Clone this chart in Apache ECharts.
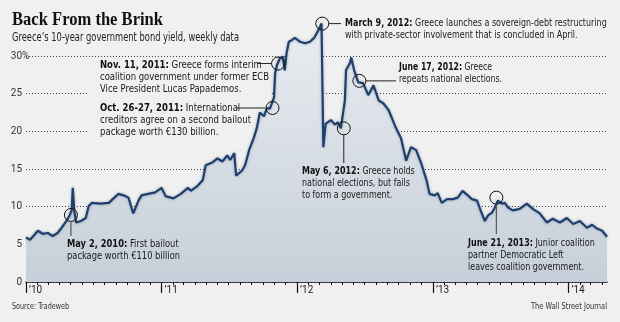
<!DOCTYPE html>
<html><head><meta charset="utf-8">
<script src="https://cdn.jsdelivr.net/npm/echarts@6/dist/echarts.min.js"></script>
<style>html,body{margin:0;padding:0;background:#f0f0f0}#c{width:620px;height:322px}</style>
</head><body><div id="c"></div>
<script>
// ---- data ----
const dates = [
 '2010-01-01','2010-01-12','2010-02-02','2010-02-15','2010-03-01','2010-03-14','2010-03-27','2010-04-07','2010-04-20','2010-04-28',
 '2010-05-04','2010-05-07','2010-05-11','2010-05-16','2010-05-29','2010-06-11','2010-06-19','2010-06-27','2010-07-21','2010-08-12',
 '2010-09-07','2010-09-21','2010-10-04','2010-10-17','2010-10-31','2010-11-08','2010-11-26','2010-12-15',
 '2011-01-01','2011-01-12','2011-02-02','2011-02-22','2011-03-13','2011-03-21','2011-04-09','2011-04-22','2011-04-30','2011-05-19',
 '2011-06-01','2011-06-14','2011-06-27','2011-07-05','2011-07-16','2011-07-21','2011-08-06','2011-08-14','2011-08-25','2011-09-07',
 '2011-09-15','2011-09-23','2011-10-04','2011-10-12','2011-10-20','2011-10-31','2011-11-03','2011-11-08','2011-11-16','2011-11-24',
 '2011-11-29','2011-12-04','2011-12-10','2011-12-18','2011-12-26',
 '2012-01-09','2012-01-23','2012-02-05','2012-02-16','2012-02-24','2012-03-07','2012-03-12','2012-03-18','2012-04-01','2012-04-12',
 '2012-04-20','2012-04-28','2012-05-09','2012-05-12','2012-05-23','2012-05-26','2012-06-03','2012-06-14','2012-06-27','2012-07-11',
 '2012-07-25','2012-08-08','2012-08-21','2012-09-04','2012-09-23','2012-10-07','2012-10-21','2012-11-03','2012-11-17','2012-12-01',
 '2012-12-15','2012-12-23',
 '2013-01-06','2013-01-14','2013-01-25','2013-02-08','2013-02-24','2013-03-09','2013-03-22','2013-04-05','2013-04-16','2013-04-30',
 '2013-05-08','2013-05-21','2013-05-29','2013-06-09','2013-06-17','2013-06-25','2013-07-06','2013-07-14','2013-07-22','2013-08-04',
 '2013-08-23','2013-09-11','2013-09-27','2013-10-16','2013-11-04','2013-11-20','2013-12-09','2013-12-28',
 '2014-01-14','2014-02-01','2014-02-20','2014-03-06','2014-03-19','2014-04-02','2014-04-15'
];
const yields = [
 5.9,5.6,6.8,6.4,6.5,6.1,6.5,7.2,8.1,8.8,
 9.5,12.5,9.5,7.9,8.1,8.5,10.1,10.5,10.4,10.5,
 11.7,11.5,11.2,9.1,10.8,11.5,11.7,11.9,
 12.5,11.4,11.1,11.7,12.5,12.1,12.8,13.5,15.5,15.9,
 16.4,16.0,16.8,16.2,17.1,14.1,14.8,15.5,17.5,19.2,
 20.5,22.5,22.0,23.1,23.0,24.5,27.7,28.8,29.7,29.9,
 28.1,30.4,31.9,32.1,32.4,
 31.9,31.7,31.9,32.4,33.1,34.3,17.9,21.0,21.5,20.9,
 21.2,20.4,24.1,28.1,29.1,29.8,28.1,26.5,26.4,24.8,
 26.1,24.1,23.7,22.8,20.5,19.1,16.1,17.9,17.5,15.7,
 13.5,11.7,
 11.5,11.8,10.5,11.0,11.0,11.2,12.1,11.5,11.0,10.8,
 9.7,8.1,8.8,9.2,9.9,10.8,10.4,10.5,9.9,9.5,
 9.7,10.4,9.7,9.1,7.9,8.4,7.9,8.5,
 7.7,8.1,7.2,7.6,7.1,6.8,6.0
];
const yTicks = [0, 5, 10, 15, 20, 25, 30];
const yearTicks = ['2010-01-01','2011-01-01','2012-01-01','2013-01-01','2014-01-01'];
const axisStart = '2010-01-01', axisEnd = '2014-04-15';
const eventDates  = ['2010-05-02','2011-10-27','2011-11-11','2012-03-09','2012-05-06','2012-06-17','2013-06-21'];
const eventYields = [8.9, 23.1, 29.0, 34.3, 20.4, 26.7, 11.2];
const eventBold = ['May 2, 2010:','Oct. 26-27, 2011:','Nov. 11, 2011:','March 9, 2012:','May 6, 2012:','June 17, 2012:','June 21, 2013:'];
const eventText = [
 ['First bailout','package worth €110 billion'],
 ['International','creditors agree on a second bailout','package worth €130 billion.'],
 ['Greece forms interim','coalition government under former ECB','Vice President Lucas Papademos.'],
 ['Greece launches a sovereign-debt restructuring','with private-sector involvement that is concluded in April.'],
 ['Greece holds','national elections, but fails','to form a government.'],
 ['Greece','repeats national elections.'],
 ['Junior coalition','partner Democratic Left','leaves coalition government.']
];
const titleText = 'Back From the Brink';
const subtitleText = 'Greece’s 10-year government bond yield, weekly data';
const sourceText = 'Source: Tradeweb';
const creditText = 'The Wall Street Journal';

// ---- layout (pixels) ----
const BG = '#f0f0f0';
const SANS = '"Liberation Sans Narrow", "DejaVu Sans Condensed", Roboto, sans-serif';
const SANS2 = 'Roboto, "Liberation Sans", sans-serif';
// [textLeft, textTop, targetWidth, leaderKind, leaderEnd, leaderColor, leaderWidth, bgRect]
const eventLayout = [
 [67, 239, 113, 'down', 236, '#555', 1.2, null],
 [100, 103, 151, 'left', 237, '#8a8a8a', 2, [88, 101, 174, 40]],
 [100, 60, 169, 'left', 257, '#222', 1, [88, 58, 184, 40]],
 [345, 18, 262, 'right', 341, '#222', 1, null],
 [302, 166, 113, 'down', 163, '#222', 1, null],
 [399, 62, 103, 'right', 396, '#222', 1, null],
 [468, 238, 127, 'down', 234, '#555', 1.2, null]
];
const LH = 12, FS = 10.5;

const ctx = document.createElement('canvas').getContext('2d');
function tw(text, weight, size, fam) { ctx.font = weight + ' ' + size + 'px ' + fam; return ctx.measureText(text).width; }
const ms = d => new Date(d + 'T00:00:00Z').getTime();

const xMin = ms(axisStart), xMax = ms(axisEnd);
const monthTicks = [];
for (let y = 2010; y <= 2014; y++) for (let m = 0; m < 12; m++) {
  const t = Date.UTC(y, m, 1);
  if (t >= xMin && t <= xMax) monthTicks.push(t);
}
const yearTickMs = yearTicks.map(ms);

const chart = echarts.init(document.getElementById('c'), null, {renderer: 'canvas', width: 620, height: 322});
const option = {
  backgroundColor: BG,
  animation: false,
  grid: {left: 26, right: 13, top: 56, bottom: 40},
  xAxis: [
    {type: 'value', min: xMin, max: xMax, position: 'bottom',
     axisLine: {show: true, lineStyle: {color: '#111', width: 1.5}},
     axisTick: {show: true, length: 3, customValues: monthTicks, lineStyle: {color: '#111', width: 1}},
     axisLabel: {show: false}, splitLine: {show: false}},
    {type: 'value', min: xMin, max: xMax, position: 'bottom',
     axisLine: {show: false},
     axisTick: {show: true, length: 11, customValues: yearTickMs, lineStyle: {color: '#111', width: 1.2}},
     axisLabel: {show: true, customValues: yearTickMs, align: 'left', margin: 3, padding: [0, 0, 0, 3], color: '#222', fontSize: 10, fontFamily: SANS2,
       formatter: v => '’' + String(new Date(v).getUTCFullYear()).slice(2)},
     splitLine: {show: false}}
  ],
  yAxis: [
    {type: 'value', min: yTicks[0], max: yTicks[yTicks.length - 1], interval: 5,
     axisLine: {show: false}, axisTick: {show: false},
     axisLabel: {color: '#333', fontSize: 10, fontFamily: SANS2, margin: 4, align: 'right', formatter: v => String(v)},
     splitLine: {show: true, lineStyle: {color: '#444', type: [1, 2], width: 1}}},
    {type: 'value', min: yTicks[0], max: yTicks[yTicks.length - 1], interval: 5, position: 'left',
     axisLine: {show: false}, axisTick: {show: false},
     axisLabel: {color: '#333', fontSize: 10, fontFamily: SANS2, margin: 4, align: 'left',
       formatter: v => v === yTicks[yTicks.length - 1] ? '%' : ''},
     splitLine: {show: false}}
  ],
  series: [{
    type: 'line', xAxisIndex: 0, yAxisIndex: 0, clip: false, z: 2,
    data: dates.map((d, i) => [ms(d), yields[i]]),
    showSymbol: false, symbol: 'none',
    lineStyle: {color: '#1e406d', width: 2.2, shadowBlur: 3, shadowColor: 'rgba(20,40,80,0.35)'},
    areaStyle: {opacity: 1, color: new echarts.graphic.LinearGradient(0, 0, 0, 1, [
      {offset: 0, color: '#eaedf1'}, {offset: 1, color: '#c6cfd9'}])}
  }]
};
chart.setOption(option);

const g = [];
function fitText(lines, boldPart, target) {
  let maxW = 0;
  lines.forEach((ln, i) => {
    let w = tw(ln, 'normal', FS, SANS);
    if (i === 0) w += tw(boldPart + ' ', 'bold', FS, SANS);
    maxW = Math.max(maxW, w);
  });
  return Math.min(1.15, target / maxW);
}
eventDates.forEach((d, i) => {
  const p = chart.convertToPixel({xAxisIndex: 0, yAxisIndex: 0}, [ms(d), eventYields[i]]);
  const [tx, ty, tw0, kind, lend, lc, lw, rect] = eventLayout[i];
  const cx = p[0], cy = p[1], R = 6.5;
  if (rect) g.push({type: 'rect', z: 1, silent: true, shape: {x: rect[0], y: rect[1], width: rect[2], height: rect[3]}, style: {fill: BG}});
  g.push({type: 'circle', z: 50, shape: {cx: cx, cy: cy, r: R}, style: {fill: 'none', stroke: '#111', lineWidth: 1}});
  let shape;
  if (kind === 'left') shape = {x1: lend, y1: cy, x2: cx - R, y2: cy};
  else if (kind === 'right') shape = {x1: cx + R, y1: cy, x2: lend, y2: cy};
  else shape = {x1: cx, y1: cy + R, x2: cx, y2: lend};
  g.push({type: 'line', z: 50, shape: shape, style: {stroke: lc, lineWidth: lw}});
  const lines = eventText[i];
  const rich = '{b|' + eventBold[i] + '}{r| ' + lines[0] + '}' + lines.slice(1).map(l => '\n{r|' + l + '}').join('');
  const sx = fitText(lines, eventBold[i], tw0);
  g.push({type: 'text', z: 60, x: tx, y: ty, scaleX: sx, style: {
    text: rich, fontSize: FS, fontFamily: SANS, lineHeight: LH, fill: '#1a1a1a', verticalAlign: 'top',
    rich: {
      b: {fontWeight: 'bold', fontSize: FS, fontFamily: SANS, lineHeight: LH, fill: '#111', verticalAlign: 'top'},
      r: {fontWeight: 'normal', fontSize: FS, fontFamily: SANS, lineHeight: LH, fill: '#1a1a1a', verticalAlign: 'top'}
    }}});
});
// title & notes
const TF = '"Liberation Serif", "DejaVu Serif", serif';
const tsx = Math.min(1.2, 151 / tw(titleText, 'bold', 19, TF));
g.push({type: 'text', z: 60, x: 12, y: 11, scaleX: tsx, style: {text: titleText, font: 'bold 19px ' + TF, fill: '#111', verticalAlign: 'top'}});
const ssx = Math.min(1.2, 227 / tw(subtitleText, 'normal', 11.5, SANS));
g.push({type: 'text', z: 60, x: 12, y: 32, scaleX: ssx, style: {text: subtitleText, font: '11.5px ' + SANS, fill: '#222', verticalAlign: 'top'}});
const srx = Math.min(1.2, 57 / tw(sourceText, 'normal', 9, SANS));
g.push({type: 'text', z: 60, x: 12, y: 302, scaleX: srx, style: {text: sourceText, font: '9px ' + SANS, fill: '#333', verticalAlign: 'top'}});
const crx = Math.min(1.2, 76 / tw(creditText, 'normal', 9, SANS));
g.push({type: 'text', z: 60, x: 607, y: 302, scaleX: crx, style: {text: creditText, font: '9px ' + SANS, fill: '#333', verticalAlign: 'top', align: 'right'}});
chart.setOption({graphic: g});
</script>
</body></html>
